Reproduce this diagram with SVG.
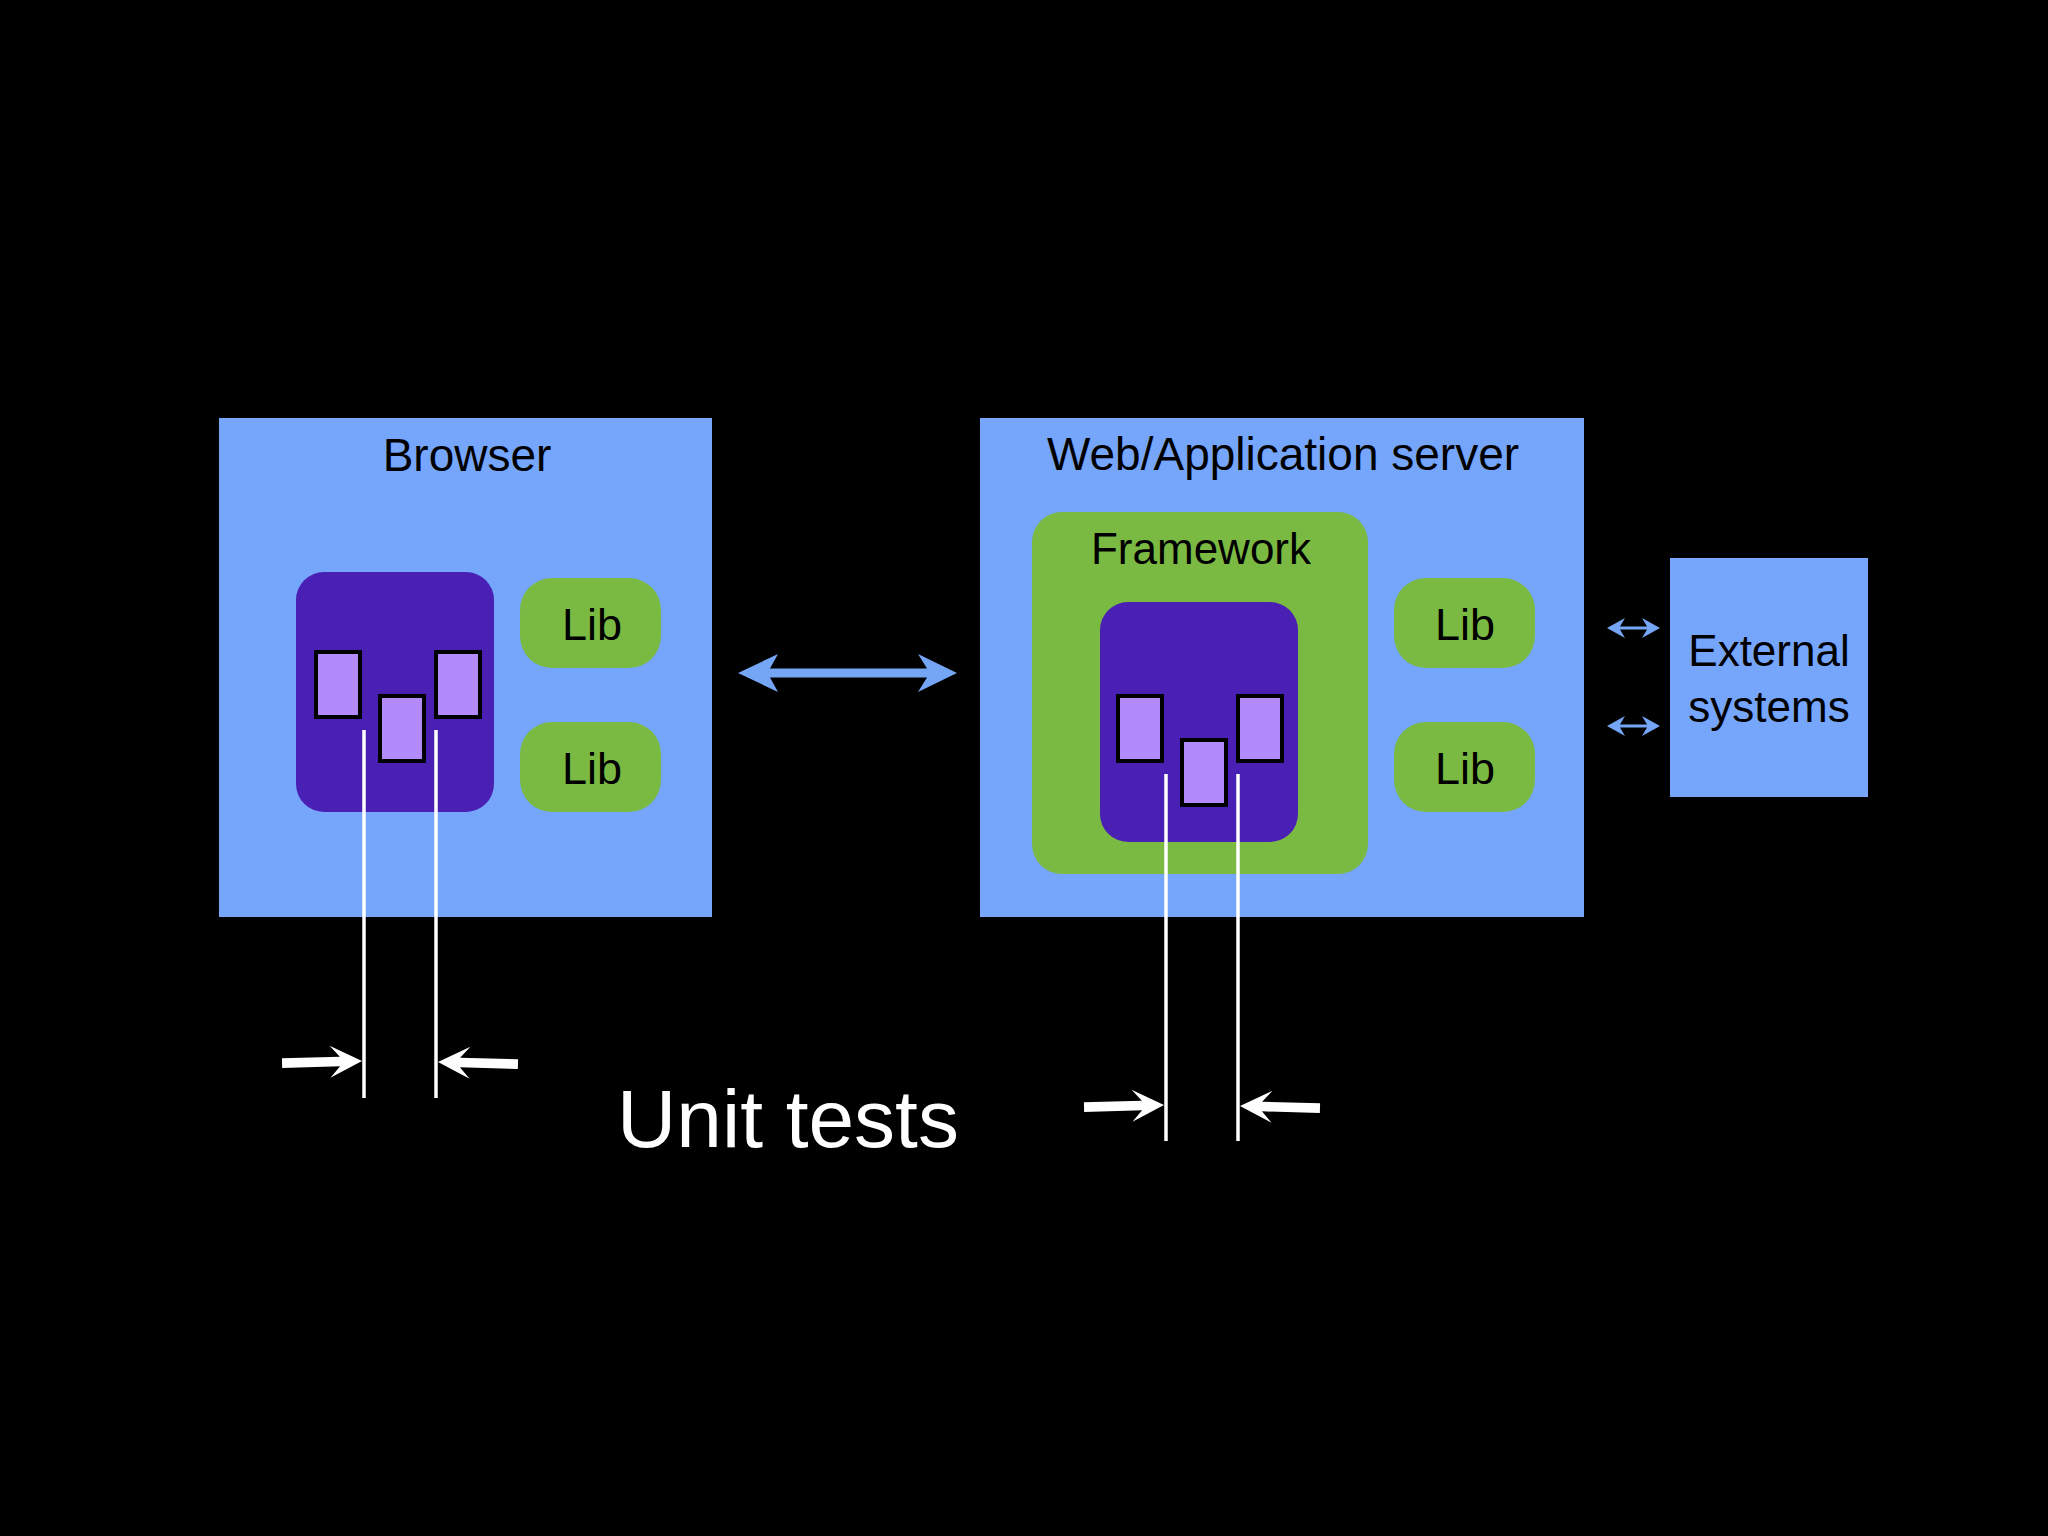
<svg xmlns="http://www.w3.org/2000/svg" xmlns:xlink="http://www.w3.org/1999/xlink" width="2048" height="1536" viewBox="0 0 2048 1536">
<style>
.box{fill:#75a6fc}
.purple{fill:#4a20b4}
.green{fill:#7aba42}
.unit{fill:#b38af9;stroke:#000;stroke-width:4}
.lbl{font-family:"Liberation Sans",Arial,sans-serif;fill:#000;text-anchor:middle}
.probe{stroke:#fff;stroke-width:3.5;fill:none}
.blue{fill:#75a6f5}
.white{fill:#fff}
</style>
<defs>
<path id="inArrow" d="M0,0 L-32,-16 L-22,-4.8 L-80,-4.8 L-80,4.8 L-22,4.8 L-32,16 Z"/>
<path id="smallArrow" d="M0,0 L18,-10 L13,-1.6 L40,-1.6 L35,-10 L53,0 L35,10 L40,1.6 L13,1.6 L18,10 Z"/>
</defs>
<rect x="0" y="0" width="2048" height="1536" fill="#000"/>

<g id="browser">
<rect class="box" x="219" y="418" width="493" height="499"/>
<text class="lbl" x="467" y="471" font-size="46">Browser</text>
</g>
<g id="browser-component">
<rect class="purple" x="296" y="572" width="198" height="240" rx="28"/>
<rect class="unit" x="316" y="652" width="44" height="65"/>
<rect class="unit" x="380" y="696" width="44" height="65"/>
<rect class="unit" x="436" y="652" width="44" height="65"/>
</g>
<g id="browser-lib1">
<rect class="green" x="520" y="578" width="141" height="90" rx="32"/>
<text class="lbl" x="592" y="640" font-size="45">Lib</text>
</g>
<g id="browser-lib2">
<rect class="green" x="520" y="722" width="141" height="90" rx="32"/>
<text class="lbl" x="592" y="784" font-size="45">Lib</text>
</g>

<g id="server">
<rect class="box" x="980" y="418" width="604" height="499"/>
<text class="lbl" x="1283" y="470" font-size="46">Web/Application server</text>
</g>
<g id="framework">
<rect class="green" x="1032" y="512" width="336" height="362" rx="30"/>
<text class="lbl" x="1201" y="564" font-size="44">Framework</text>
</g>
<g id="server-component">
<rect class="purple" x="1100" y="602" width="198" height="240" rx="28"/>
<rect class="unit" x="1118" y="696" width="44" height="65"/>
<rect class="unit" x="1182" y="740" width="44" height="65"/>
<rect class="unit" x="1238" y="696" width="44" height="65"/>
</g>
<g id="server-lib1">
<rect class="green" x="1394" y="578" width="141" height="90" rx="32"/>
<text class="lbl" x="1465" y="640" font-size="45">Lib</text>
</g>
<g id="server-lib2">
<rect class="green" x="1394" y="722" width="141" height="90" rx="32"/>
<text class="lbl" x="1465" y="784" font-size="45">Lib</text>
</g>

<g id="external">
<rect class="box" x="1670" y="558" width="198" height="239"/>
<text class="lbl" x="1769" y="666" font-size="44">External</text>
<text class="lbl" x="1769" y="722" font-size="44">systems</text>
</g>

<g id="connectors">
<path class="blue" d="M738,673 L778,654 L770,668.5 L927,668.5 L918,654 L957,673 L918,692 L927,677.5 L770,677.5 L778,692 Z"/>
<use xlink:href="#smallArrow" class="blue" transform="translate(1607,628)"/>
<use xlink:href="#smallArrow" class="blue" transform="translate(1607,726)"/>
<line class="probe" x1="364" y1="730" x2="364" y2="1098"/>
<line class="probe" x1="436" y1="730" x2="436" y2="1098"/>
<line class="probe" x1="1166" y1="774" x2="1166" y2="1141"/>
<line class="probe" x1="1238" y1="774" x2="1238" y2="1141"/>
<use xlink:href="#inArrow" class="white" transform="translate(362,1061) rotate(-1.5)"/>
<use xlink:href="#inArrow" class="white" transform="translate(438,1062) rotate(1.5) scale(-1,1)"/>
<use xlink:href="#inArrow" class="white" transform="translate(1164,1105) rotate(-1.5)"/>
<use xlink:href="#inArrow" class="white" transform="translate(1240,1106) rotate(1.5) scale(-1,1)"/>
</g>

<text x="788" y="1147" font-size="82" font-family="'Liberation Sans',Arial,sans-serif" fill="#fff" text-anchor="middle">Unit tests</text>
</svg>
